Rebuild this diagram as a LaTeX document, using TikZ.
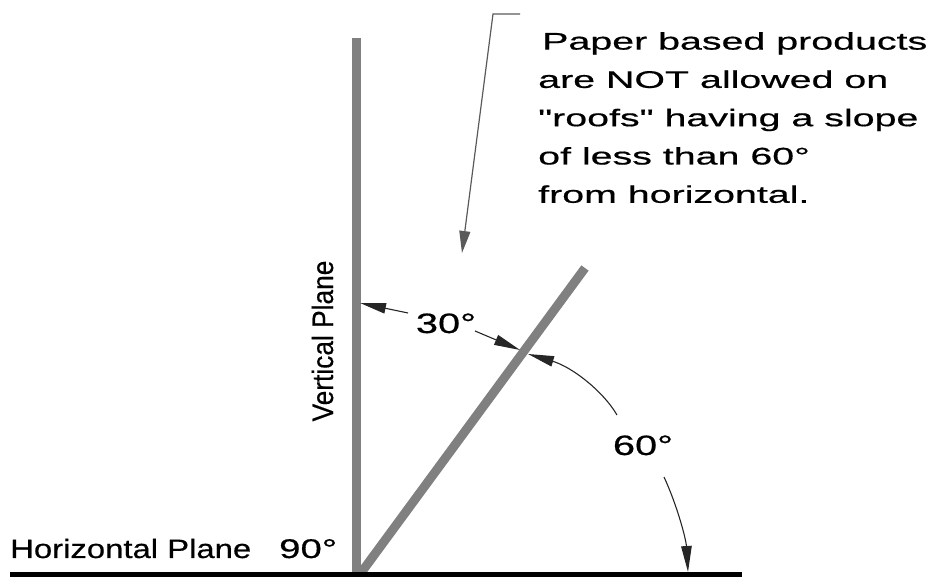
\documentclass[tikz,border=0pt]{standalone}
\usepackage{fontspec}
\setmainfont{Liberation Sans}
\newfontfamily\blockfont[FakeStretch=1.64,FakeBold=0.6]{Liberation Sans}
\newfontfamily\horfont[FakeStretch=1.24,FakeBold=0.5]{Liberation Sans}
\newfontfamily\degfont[FakeStretch=1.42,FakeBold=0.6]{Liberation Sans}
\newfontfamily\vertfont[FakeBold=0.4]{Liberation Sans}
\usetikzlibrary{arrows.meta}
\definecolor{planegray}{HTML}{808080}
\definecolor{leadergray}{HTML}{5A5A5A}
\tikzset{
  plane/.style={draw=planegray, line width=9pt},
  ground/.style={draw=black, line width=5.5pt},
  dimarrow/.style={draw=black!85, line width=1.1pt, -{Triangle[length=26pt,width=10.5pt]}},
  leader/.style={draw=leadergray, line width=1.2pt, -{Triangle[length=22pt,width=11pt]}},
  blocktext/.style={inner sep=0pt, align=left, font=\blockfont\fontsize{24}{38.3}\selectfont},
  hortext/.style={inner sep=0pt, font=\horfont\fontsize{26.5}{30}\selectfont},
  degtext/.style={inner sep=0pt, font=\degfont\fontsize{28}{32}\selectfont},
  verttext/.style={inner sep=0pt, rotate=90, font=\vertfont\fontsize{26.3}{30}\selectfont}
}
\begin{document}
\begin{tikzpicture}[x=1pt,y=1pt]
\useasboundingbox (0,0) rectangle (939,577);
% planes
\coordinate (vtop) at (356.5,539);
\coordinate (vbot) at (356.5,0);
\coordinate (hleft) at (10,2.5);
\coordinate (hright) at (742,2.5);
\coordinate (dbot) at (358,0);
\coordinate (dtop) at (585,309);
\draw[plane] (vtop) -- (vbot);
\draw[plane] (dbot) -- (dtop);
\draw[ground] (hleft) -- (hright);
% leader
\coordinate (l0) at (520,563);
\coordinate (l1) at (493,563);
\coordinate (l2) at (462,324);
\draw[leader] (l0) -- (l1) -- (l2);
% texts
\node[blocktext, anchor=north west] (note) at (538,545) {\hspace{4pt}Paper based products\\are NOT allowed on\\"roofs" having a slope\\of less than 60°\\from horizontal.};
\node[verttext, anchor=base] (vplane) at (333,236) {\scalebox{1}[1.12]{Vertical Plane}};
\node[hortext, anchor=base west] (hplane) at (10,19) {Horizontal Plane};
\node[degtext, anchor=base west, font=\degfont\fontsize{27}{30}\selectfont] (ninety) at (279,19) {90°};
\node[degtext, anchor=base] (thirty) at (446,244) {30°};
\node[degtext, anchor=base] (sixty) at (643,122) {60°};
% dimension arrows
\coordinate (a1s) at (408,264);
\coordinate (a1e) at (360,274);
\coordinate (a2s) at (475,246);
\coordinate (a2e) at (520,227);
\coordinate (a3s) at (617,162);
\coordinate (a3c1) at (603,186);
\coordinate (a3c2) at (572,210);
\coordinate (a3e) at (528,223);
\coordinate (a4s) at (664,100);
\coordinate (a4c1) at (677,72);
\coordinate (a4c2) at (686,38);
\coordinate (a4e) at (688,5);
\draw[dimarrow] (a1s) -- (a1e);
\draw[dimarrow] (a2s) -- (a2e);
\draw[dimarrow] (a3s) .. controls (a3c1) and (a3c2) .. (a3e);
\draw[dimarrow] (a4s) .. controls (a4c1) and (a4c2) .. (a4e);
\end{tikzpicture}
\end{document}
